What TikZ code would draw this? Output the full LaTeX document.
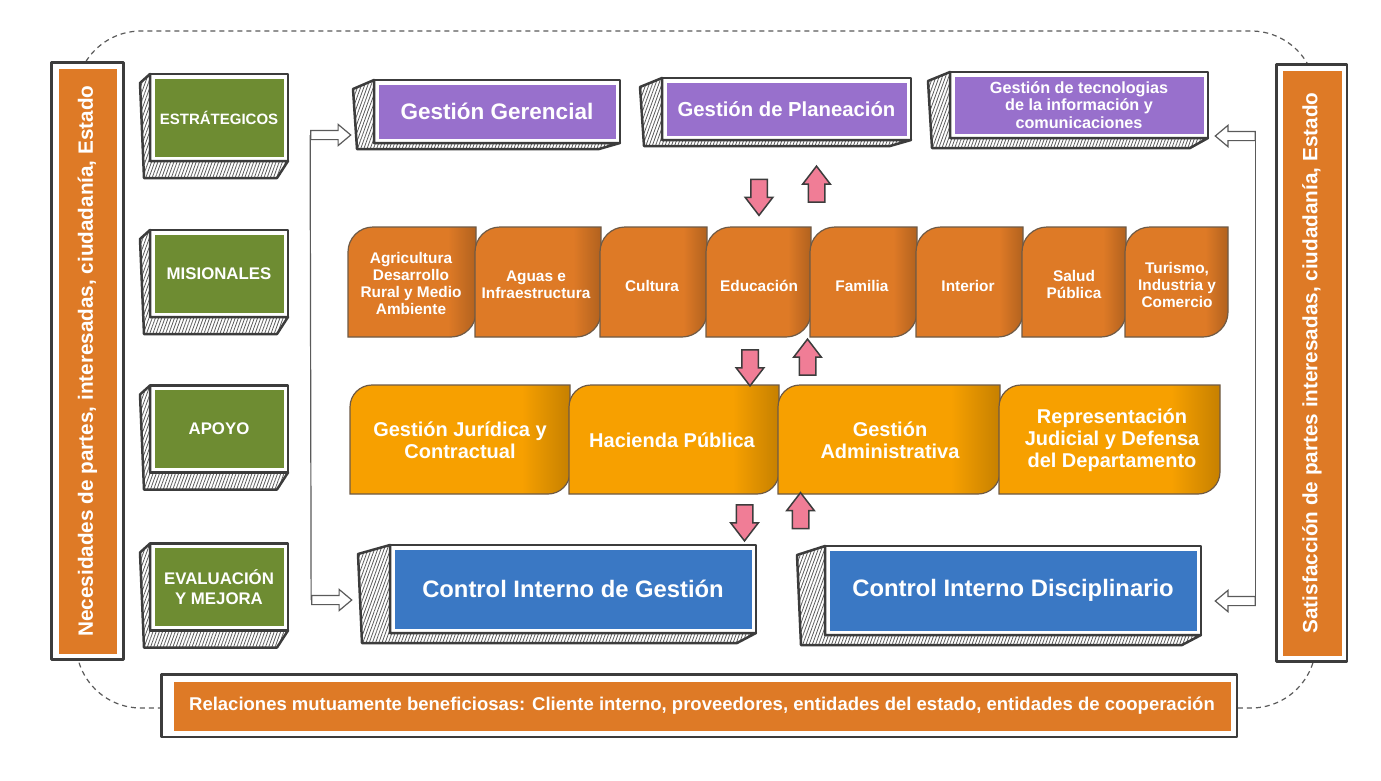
\documentclass[tikz,border=0pt]{standalone}
\usepackage{fontspec}
\setmainfont{Liberation Sans}
\usepackage{graphicx}
\usetikzlibrary{shapes.arrows,patterns.meta}
\definecolor{custcol_3c_3c_3c}{RGB}{60, 60, 60}
\definecolor{custcol_5a_5a_5a}{RGB}{90, 90, 90}
\definecolor{custcol_de_7a_26}{RGB}{222, 122, 38}
\definecolor{custcol_f7_a0_00}{RGB}{247, 160, 0}
\definecolor{custcol_6e_8c_32}{RGB}{110, 140, 50}
\definecolor{custcol_98_70_cc}{RGB}{152, 112, 204}
\definecolor{custcol_3a_78_c4}{RGB}{58, 120, 196}
\definecolor{custcol_f0_7d_96}{RGB}{240, 125, 150}
\definecolor{custcol_6e_5a_46}{RGB}{110, 90, 70}
\colorlet{tabc}{custcol_de_7a_26}
\colorlet{tabd}{tabc!80!black}
\pgfdeclarehorizontalshading[tabc,tabd]{tabshade}{100bp}{color(0bp)=(tabc); color(25bp)=(tabc); color(64bp)=(tabc); color(75bp)=(tabd); color(100bp)=(tabd)}
\newcommand\fsz[2]{\bfseries\fontsize{#1}{#2}\selectfont}
\tikzset{
  face/.style={fill=#1, draw=white, line width=3pt, inner sep=0pt, outer sep=0pt, text=white, align=center},
  frame/.style={draw=custcol_3c_3c_3c, line width=2.5pt, line join=round},
  hatch/.style={frame, pattern={Lines[angle=70,distance=3pt,line width=0.8pt]}, pattern color=custcol_5a_5a_5a},
  tab/.style={draw=custcol_6e_5a_46, line width=1.2pt, /utils/exec={\colorlet{tabc}{#1}\colorlet{tabd}{#1!80!black}}, shade, shading=tabshade},
  tabtext/.style={text=white, align=center, inner sep=0pt},
  pinkarrow/.style={single arrow, draw=custcol_3c_3c_3c, line width=1.5pt, fill=custcol_f0_7d_96, inner sep=7.5pt,
    minimum height=36, single arrow head extend=5.5pt, single arrow tip angle=75},
  openarrow/.style={single arrow, draw=custcol_5a_5a_5a, line width=1.2pt, fill=white, inner xsep=0pt, inner ysep=4pt,
    minimum height=40, single arrow head extend=6pt, single arrow tip angle=80},
  vline/.style={draw=custcol_5a_5a_5a, line width=1.2pt},
  ring/.style={draw=custcol_5a_5a_5a, line width=1.2pt, dash pattern=on 5pt off 4pt},
}
% hatched side and frame of a 3d box: node, left drop, bottom drop, right inset
\newcommand\boxshade[4]{%
  \draw[hatch] ([shift={(-3,-3)}]#1.north west) -- ([shift={(-3-#2,6)}]#1.north west)
    -- ([shift={(-#2+1,3+#3)}]#1.south west) -- ([shift={(-#4,3+#3)}]#1.south east)
    -- ([shift={(3,3)}]#1.south east) -- ([shift={(-3,3)}]#1.south west) -- cycle;
  \draw[frame] ([shift={(-3,-3)}]#1.north west) rectangle ([shift={(3,3)}]#1.south east);}
% box with rounded top left and bottom right corners: x1 y1 x2 y2 r
\newcommand\tabpath[5]{(#1,#4) -- (#1,#2+#5) arc[start angle=180,end angle=270,radius=#5]
  -- (#3,#2) -- (#3,#4-#5) arc[start angle=0,end angle=90,radius=#5] -- cycle}
\begin{document}
\begin{tikzpicture}[x=1pt,y=-1pt]
\useasboundingbox (0,0) rectangle (1381,780);
\fill[white] (0,0) rectangle (1381,780);
\draw[ring, rounded corners=65] (76,31) rectangle (1316,708);

% side bars and bottom bar
\draw[frame, fill=white] (51.5,62.5) rectangle (123.5,659.5);
\node[face=custcol_de_7a_26, minimum width=61, minimum height=588, font=\fsz{20.7}{24}] (need) at (87.5,361) {\rotatebox{90}{Necesidades de partes, interesadas, ciudadanía, Estado}};
\draw[frame, fill=white] (1276.5,64.5) rectangle (1347,661.5);
\node[face=custcol_de_7a_26, minimum width=62, minimum height=588, font=\fsz{20.7}{24}] (satis) at (1312,363) {\rotatebox{90}{Satisfacción de partes interesadas, ciudadanía, Estado}};
\draw[frame, fill=white] (161.5,674.5) rectangle (1237,737);
\node[face=custcol_de_7a_26, minimum width=1060, minimum height=52, font=\fsz{18.5}{22}] (rel) at (702,706) {Relaciones mutuamente beneficiosas: Cliente interno, proveedores, entidades del estado, entidades de cooperación};

% process levels
\node[face=custcol_6e_8c_32, minimum width=132, minimum height=81, font=\fsz{15}{18}] (estr) at (219,117.5) {ESTRÁTEGICOS};
\boxshade{estr}{10}{17}{8}
\node[face=custcol_6e_8c_32, minimum width=132, minimum height=81, font=\fsz{16.8}{20}] (mis) at (219,273.5) {MISIONALES};
\boxshade{mis}{10}{17}{8}
\node[face=custcol_6e_8c_32, minimum width=132, minimum height=81, font=\fsz{16.8}{20}] (apo) at (219,429) {APOYO};
\boxshade{apo}{10}{17}{8}
\node[face=custcol_6e_8c_32, minimum width=132, minimum height=81, font=\fsz{16.8}{20}] (eval) at (219,587) {EVALUACIÓN\\Y MEJORA};
\boxshade{eval}{10}{17}{8}

% strategic processes
\node[face=custcol_98_70_cc, minimum width=240, minimum height=57, font=\fsz{22.5}{26}] (ger) at (497,111.5) {Gestión Gerencial};
\boxshade{ger}{21}{6}{18}
\node[face=custcol_98_70_cc, minimum width=243, minimum height=56, font=\fsz{20.3}{24}] (plan) at (786.5,109) {Gestión de Planeación};
\boxshade{plan}{22}{6}{18}
\node[face=custcol_98_70_cc, minimum width=252, minimum height=60, font=\fsz{16.2}{17.5}] (tic) at (1079,105) {Gestión de tecnologias\\de la información y\\comunicaciones};
\boxshade{tic}{22}{10}{15}

% missional processes
\path[tab=custcol_de_7a_26] \tabpath{348}{227}{476}{337}{25};
\path[tab=custcol_de_7a_26] \tabpath{475}{227}{601}{337}{25};
\path[tab=custcol_de_7a_26] \tabpath{600}{227}{707}{337}{25};
\path[tab=custcol_de_7a_26] \tabpath{706}{227}{811}{337}{25};
\path[tab=custcol_de_7a_26] \tabpath{810}{227}{917}{337}{25};
\path[tab=custcol_de_7a_26] \tabpath{916}{227}{1023}{337}{25};
\path[tab=custcol_de_7a_26] \tabpath{1022}{227}{1126}{337}{25};
\path[tab=custcol_de_7a_26] \tabpath{1125}{227}{1228}{337}{25};
\node[tabtext, font=\fsz{15.4}{17}] (agr) at (411,283) {Agricultura\\Desarrollo\\Rural y Medio\\Ambiente};
\node[tabtext, font=\fsz{15.4}{17}] (agu) at (536,285) {Aguas e\\Infraestructura};
\node[tabtext, font=\fsz{15.4}{17}] (cul) at (652,286) {Cultura};
\node[tabtext, font=\fsz{15.4}{17}] (edu) at (759,286) {Educación};
\node[tabtext, font=\fsz{15.4}{17}] (fam) at (862,286) {Familia};
\node[tabtext, font=\fsz{15.4}{17}] (int) at (968,286) {Interior};
\node[tabtext, font=\fsz{15.4}{17}] (sal) at (1074,284) {Salud\\Pública};
\node[tabtext, font=\fsz{15.4}{17}] (tur) at (1177,285) {Turismo,\\Industria y\\Comercio};

% support processes
\path[tab=custcol_f7_a0_00] \tabpath{350}{385}{570}{494}{22};
\path[tab=custcol_f7_a0_00] \tabpath{569}{385}{779}{494}{22};
\path[tab=custcol_f7_a0_00] \tabpath{778}{385}{1000}{494}{22};
\path[tab=custcol_f7_a0_00] \tabpath{999}{385}{1220}{494}{22};
\node[tabtext, font=\fsz{20}{22}] (jur) at (460,440) {Gestión Jurídica y\\Contractual};
\node[tabtext, font=\fsz{20}{22}] (hac) at (672,440) {Hacienda Pública};
\node[tabtext, font=\fsz{20}{22}] (adm) at (890,440) {Gestión\\Administrativa};
\node[tabtext, font=\fsz{20}{22}] (rep) at (1112,440) {Representación\\Judicial y Defensa\\del Departamento};

% evaluation processes
\node[face=custcol_3a_78_c4, minimum width=360, minimum height=82, font=\fsz{23.8}{28}] (cig) at (573,589) {Control Interno de Gestión};
\boxshade{cig}{32}{10}{16}
\node[face=custcol_3a_78_c4, minimum width=370, minimum height=83, font=\fsz{23.8}{28}] (cid) at (1013,590.5) {Control Interno Disciplinario};
\boxshade{cid}{28}{10}{16}

% flows between levels
\node[pinkarrow, shape border rotate=270] (dn1) at (759,192) {};
\node[pinkarrow, shape border rotate=90] (up1) at (816.5,189.5) {};
\node[pinkarrow, shape border rotate=270] (dn2) at (750,362.5) {};
\node[pinkarrow, shape border rotate=90] (up2) at (807.5,362.5) {};
\node[pinkarrow, shape border rotate=270] (dn3) at (744.5,517.5) {};
\node[pinkarrow, shape border rotate=90] (up3) at (800.5,516) {};

% inputs and outputs
\node[openarrow] (inl) at (328,135) {};
\node[openarrow] (inr) at (329,600) {};
\node[openarrow, shape border rotate=180] (outl) at (1238,136) {};
\node[openarrow, shape border rotate=180] (outr) at (1238,601) {};
\draw[vline] (inl.tail) -- (inr.tail);
\draw[vline] (outl.tail) -- (outr.tail);
\end{tikzpicture}
\end{document}
